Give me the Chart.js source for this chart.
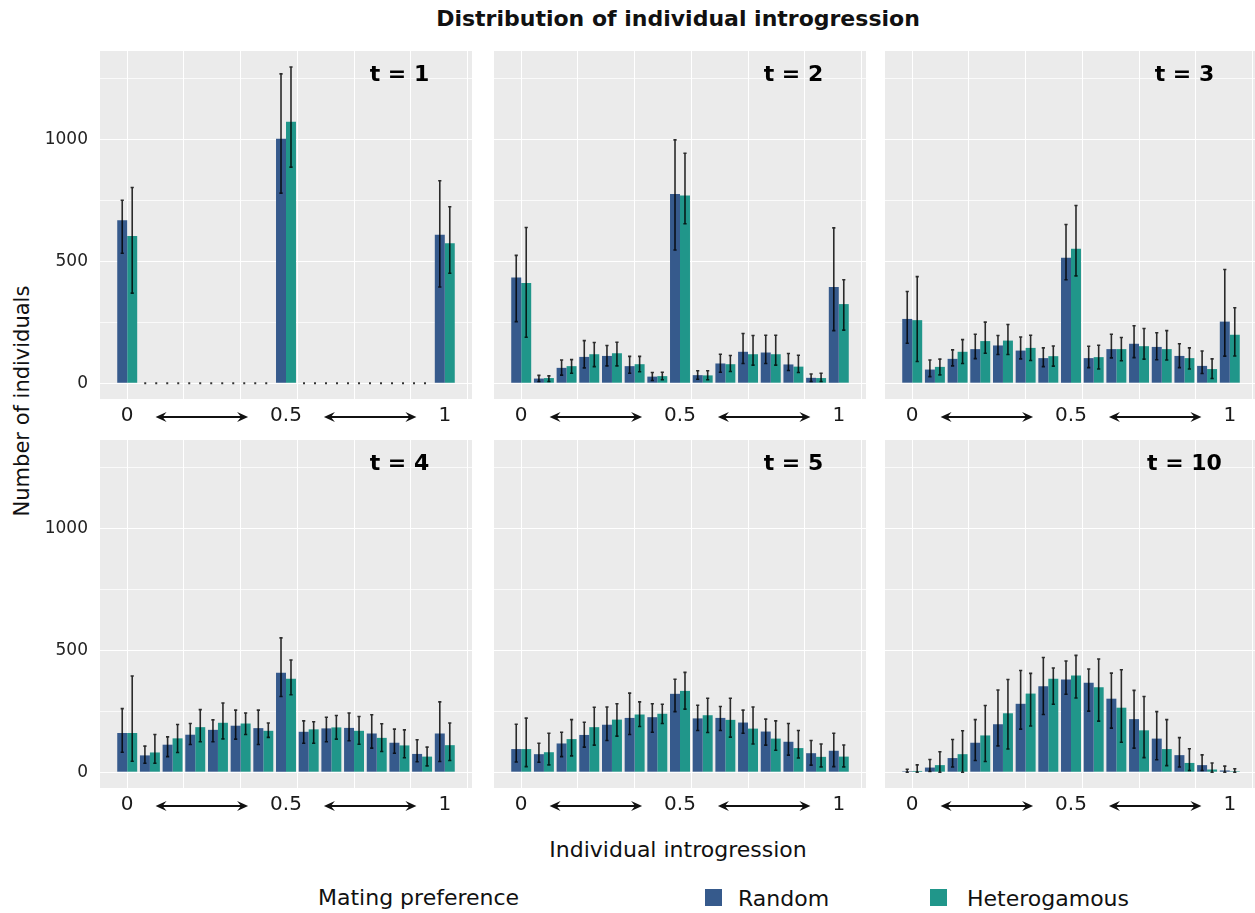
<!DOCTYPE html>
<html>
<head>
<meta charset="utf-8">
<title>Distribution of individual introgression</title>
<script src="https://cdn.jsdelivr.net/npm/chart.js@4.4.1/dist/chart.umd.min.js"></script>
<style>
  body {
    margin: 0;
    width: 1255px;
    height: 913px;
    overflow: hidden;
    background: #fff;
    position: relative;
    font-family: "DejaVu Sans", Verdana, sans-serif;
    color: #111;
  }
  canvas { position: absolute; }
  .txt { position: absolute; white-space: nowrap; }
  .c { transform: translate(-50%, -50%); }
  .l { transform: translateY(-50%); }
  .sq { position: absolute; width: 17px; height: 17px; }
</style>
</head>
<body>

<div class="txt c" style="left:678px; top:18px; font-size:22px; font-weight:bold;">Distribution of individual introgression</div>
<div class="txt c" style="left:22px; top:401px; font-size:21px; transform:translate(-50%,-50%) rotate(-90deg);">Number of individuals</div>
<div class="txt c" style="left:678px; top:849px; font-size:22px;">Individual introgression</div>

<div class="txt l" style="left:318px; top:897px; font-size:22px;">Mating preference</div>
<div class="sq" style="left:705px; top:889px; background:#365a8c;"></div>
<div class="txt l" style="left:738px; top:898px; font-size:22px;">Random</div>
<div class="sq" style="left:930px; top:889px; background:#20968a;"></div>
<div class="txt l" style="left:967px; top:898px; font-size:22px;">Heterogamous</div>

<canvas id="t1"></canvas>
<canvas id="t2"></canvas>
<canvas id="t3"></canvas>
<canvas id="t4"></canvas>
<canvas id="t5"></canvas>
<canvas id="t10"></canvas>

<script>
// introgression bins 0, 1/14, ..., 1 (plotted by bin index)
const bins = [0, 1, 2, 3, 4, 5, 6, 7, 8, 9, 10, 11, 12, 13, 14];
const tickBins = [0, 7, 14];
const tickLabels = ["0", "0.5", "1"];
const yTicks = [0, 250, 500, 750, 1000, 1250];

// t = 1
const randomT1   = [670, 0, 0, 0, 0, 0, 0, 1004, 0, 0, 0, 0, 0, 0, 610];
const randomT1Lo = [534, 0, 0, 0, 0, 0, 0, 781, 0, 0, 0, 0, 0, 0, 395];
const randomT1Hi = [752, 0, 0, 0, 0, 0, 0, 1271, 0, 0, 0, 0, 0, 0, 832];
const heteroT1   = [605, 0, 0, 0, 0, 0, 0, 1074, 0, 0, 0, 0, 0, 0, 575];
const heteroT1Lo = [370, 0, 0, 0, 0, 0, 0, 888, 0, 0, 0, 0, 0, 0, 452];
const heteroT1Hi = [804, 0, 0, 0, 0, 0, 0, 1299, 0, 0, 0, 0, 0, 0, 725];

// t = 2
const randomT2   = [434, 19, 63, 108, 112, 70, 27, 777, 33, 81, 129, 126, 77, 22, 395];
const randomT2Lo = [253, 7, 33, 63, 71, 41, 11, 547, 16, 45, 81, 81, 52, 7, 216];
const randomT2Hi = [525, 32, 95, 175, 155, 110, 44, 1000, 51, 119, 204, 197, 122, 38, 638];
const heteroT2   = [412, 21, 70, 119, 123, 78, 29, 771, 32, 78, 119, 119, 68, 21, 325];
const heteroT2Lo = [189, 7, 41, 68, 71, 47, 14, 655, 14, 48, 74, 74, 44, 7, 218];
const heteroT2Hi = [640, 30, 97, 167, 168, 110, 45, 945, 51, 114, 196, 197, 115, 41, 425];

// t = 3
const randomT3   = [264, 56, 100, 140, 155, 134, 103, 515, 103, 140, 162, 149, 112, 71, 253];
const randomT3Lo = [164, 27, 71, 101, 118, 100, 68, 425, 64, 104, 105, 96, 64, 40, 111];
const randomT3Hi = [377, 95, 137, 201, 196, 190, 145, 652, 152, 201, 236, 207, 162, 132, 467];
const heteroT3   = [259, 67, 129, 173, 175, 145, 111, 552, 107, 140, 152, 140, 103, 58, 199];
const heteroT3Lo = [89, 34, 81, 123, 118, 93, 70, 441, 58, 92, 99, 95, 58, 19, 112];
const heteroT3Hi = [438, 99, 179, 251, 241, 197, 153, 730, 156, 188, 225, 216, 145, 100, 310];

// t = 4
const randomT4   = [161, 69, 113, 154, 174, 191, 181, 409, 166, 180, 182, 159, 121, 75, 159];
const randomT4Lo = [82, 37, 64, 114, 125, 136, 114, 311, 119, 125, 129, 99, 78, 43, 44];
const randomT4Hi = [261, 107, 145, 200, 215, 255, 255, 552, 211, 226, 243, 236, 177, 133, 289];
const heteroT4   = [161, 81, 139, 185, 203, 200, 170, 384, 176, 184, 170, 141, 110, 64, 111];
const heteroT4Lo = [45, 37, 81, 125, 137, 155, 143, 318, 119, 136, 115, 85, 59, 26, 48];
const heteroT4Hi = [395, 155, 196, 257, 284, 243, 202, 461, 207, 233, 229, 199, 174, 103, 202];

// t = 5
const randomT5   = [95, 74, 118, 153, 195, 223, 226, 322, 221, 223, 204, 167, 125, 78, 88];
const randomT5Lo = [42, 41, 64, 103, 130, 155, 164, 249, 171, 171, 160, 111, 70, 29, 23];
const randomT5Hi = [197, 119, 164, 205, 268, 325, 281, 382, 275, 270, 255, 218, 200, 130, 160];
const heteroT5   = [95, 82, 136, 185, 216, 237, 240, 334, 234, 215, 179, 138, 99, 63, 64];
const heteroT5Lo = [23, 30, 67, 111, 148, 188, 200, 259, 163, 144, 116, 90, 58, 22, 22];
const heteroT5Hi = [222, 160, 216, 267, 281, 289, 279, 410, 304, 304, 268, 211, 171, 116, 112];

// t = 10
const randomT10   = [4, 19, 58, 121, 197, 281, 353, 381, 368, 302, 218, 138, 70, 29, 7];
const randomT10Lo = [0, 3, 21, 48, 108, 177, 237, 320, 251, 181, 99, 51, 21, 7, 0];
const randomT10Hi = [12, 52, 134, 216, 338, 418, 471, 457, 424, 407, 336, 249, 142, 71, 25];
const heteroT10   = [5, 29, 74, 151, 242, 323, 384, 397, 349, 265, 172, 95, 38, 11, 4];
const heteroT10Lo = [0, 0, 0, 44, 95, 190, 279, 305, 210, 123, 60, 27, 7, 0, 0];
const heteroT10Hi = [30, 84, 170, 274, 381, 406, 428, 480, 465, 421, 311, 216, 96, 38, 14];

const RANDOM_COLOR = "#365a8c";
const HETERO_COLOR = "#20968a";
const PANEL_BG = "#ebebeb";

const PLOT_W = 372, PLOT_H = 348, AXIS_H = 40, YLAB_W = 100;

// gray panel, error bars, custom x labels with arrows, "t = n" tag
const panelDecor = {
  id: "panelDecor",
  beforeDraw(chart) {
    const a = chart.chartArea, ctx = chart.ctx;
    ctx.save();
    ctx.fillStyle = PANEL_BG;
    ctx.fillRect(a.left, a.top, a.right - a.left, a.bottom - a.top);
    ctx.restore();
  },
  afterDatasetsDraw(chart) {
    const ctx = chart.ctx, y = chart.scales.y;
    ctx.save();
    ctx.strokeStyle = "rgba(0,0,0,0.82)";
    ctx.lineWidth = 1.6;
    chart.data.datasets.forEach((ds, di) => {
      chart.getDatasetMeta(di).data.forEach((bar, i) => {
        const lo = ds.errLo[i], hi = ds.errHi[i];
        if (hi <= lo) return;
        const yl = y.getPixelForValue(lo), yh = y.getPixelForValue(hi);
        ctx.beginPath();
        ctx.moveTo(bar.x, yl); ctx.lineTo(bar.x, yh);
        ctx.moveTo(bar.x - 1.6, yl); ctx.lineTo(bar.x + 1.6, yl);
        ctx.moveTo(bar.x - 1.6, yh); ctx.lineTo(bar.x + 1.6, yh);
        ctx.stroke();
      });
    });
    ctx.restore();
  },
  afterDraw(chart, args, opts) {
    const ctx = chart.ctx, x = chart.scales.x, y = chart.scales.y, a = chart.chartArea;
    ctx.save();

    // dotted zero line where there are no individuals (t = 1)
    if (opts.dots) {
      ctx.strokeStyle = "#333";
      ctx.lineWidth = 2;
      ctx.setLineDash([2, 9]);
      const y0 = y.getPixelForValue(0);
      opts.dots.forEach(([b0, b1]) => {
        ctx.beginPath();
        ctx.moveTo(x.getPixelForValue(b0), y0);
        ctx.lineTo(x.getPixelForValue(b1), y0);
        ctx.stroke();
      });
      ctx.setLineDash([]);
    }

    // x labels
    const ly = a.bottom + 17;
    ctx.fillStyle = "#1a1a1a";
    ctx.font = '20px "DejaVu Sans"';
    ctx.textAlign = "center";
    ctx.textBaseline = "middle";
    const xs = tickBins.map(b => x.getPixelForValue(b));
    const ws = tickLabels.map(t => ctx.measureText(t).width);
    tickLabels.forEach((t, k) => ctx.fillText(t, xs[k], ly));

    // double arrows between labels
    ctx.strokeStyle = "#111";
    ctx.fillStyle = "#111";
    ctx.lineWidth = 2;
    for (let k = 0; k < xs.length - 1; k++) {
      const x1 = xs[k] + ws[k] / 2 + 22;
      const x2 = xs[k + 1] - ws[k + 1] / 2 - 22;
      const ay = ly + 1;
      ctx.beginPath();
      ctx.moveTo(x1 + 4, ay); ctx.lineTo(x2 - 4, ay);
      ctx.stroke();
      ctx.beginPath();
      ctx.moveTo(x1, ay); ctx.lineTo(x1 + 11, ay - 5); ctx.lineTo(x1 + 7, ay); ctx.lineTo(x1 + 11, ay + 5);
      ctx.closePath();
      ctx.moveTo(x2, ay); ctx.lineTo(x2 - 11, ay - 5); ctx.lineTo(x2 - 7, ay); ctx.lineTo(x2 - 11, ay + 5);
      ctx.closePath();
      ctx.fill();
    }

    // panel tag
    ctx.font = 'bold 22px "DejaVu Sans"';
    ctx.fillStyle = "#000";
    ctx.fillText(opts.label, x.getPixelForValue(12), y.getPixelForValue(1265));
    ctx.restore();
  }
};

function makePanel(id, label, left, top, showY, rnd, rndLo, rndHi, het, hetLo, hetHi, dots) {
  const canvas = document.getElementById(id);
  const w = PLOT_W + (showY ? YLAB_W : 0);
  canvas.width = w;
  canvas.height = PLOT_H + AXIS_H;
  canvas.style.left = (left - (showY ? YLAB_W : 0)) + "px";
  canvas.style.top = top + "px";

  new Chart(canvas.getContext("2d"), {
    type: "bar",
    data: {
      datasets: [
        {
          label: "Random",
          data: bins.map((b, i) => ({ x: b, y: rnd[i] })),
          errLo: rndLo, errHi: rndHi,
          backgroundColor: RANDOM_COLOR,
          borderWidth: 0
        },
        {
          label: "Heterogamous",
          data: bins.map((b, i) => ({ x: b, y: het[i] })),
          errLo: hetLo, errHi: hetHi,
          backgroundColor: HETERO_COLOR,
          borderWidth: 0
        }
      ]
    },
    options: {
      responsive: false,
      animation: false,
      devicePixelRatio: 1,
      layout: { padding: 0 },
      categoryPercentage: 0.88,
      barPercentage: 1.0,
      scales: {
        x: {
          type: "linear",
          offset: false,
          min: -1.2,
          max: 15.2,
          afterBuildTicks: s => { s.ticks = [0, 2.5, 5, 7.5, 10, 12.5, 15].map(v => ({ value: v })); },
          afterFit: s => { s.height = AXIS_H; },
          ticks: { display: false },
          grid: { offset: false, color: "#ffffff", lineWidth: 1, drawTicks: false },
          border: { display: false }
        },
        y: {
          min: -65,
          max: 1365,
          afterBuildTicks: s => { s.ticks = yTicks.map(v => ({ value: v })); },
          afterFit: s => {
            s.width = showY ? YLAB_W : 0;
            s.paddingTop = 0;
            s.paddingBottom = 0;
          },
          ticks: {
            display: showY,
            padding: 12,
            color: "#222",
            font: { family: "DejaVu Sans", size: 17 },
            callback: v => (v % 500 === 0 ? String(v) : "")
          },
          grid: {
            color: c => (c.tick && c.tick.value % 500 === 0 ? "#ffffff" : "rgba(255,255,255,0.75)"),
            lineWidth: 1,
            drawTicks: false
          },
          border: { display: false }
        }
      },
      plugins: {
        legend: { display: false },
        tooltip: { enabled: false },
        panelDecor: { label: label, dots: dots }
      }
    },
    plugins: [panelDecor]
  });
}

makePanel("t1", "t = 1", 100, 51, true, randomT1, randomT1Lo, randomT1Hi, heteroT1, heteroT1Lo, heteroT1Hi,
  [[0.75, 6.3], [7.75, 13.3]]);
makePanel("t2", "t = 2", 494, 51, false, randomT2, randomT2Lo, randomT2Hi, heteroT2, heteroT2Lo, heteroT2Hi);
makePanel("t3", "t = 3", 885, 51, false, randomT3, randomT3Lo, randomT3Hi, heteroT3, heteroT3Lo, heteroT3Hi);
makePanel("t4", "t = 4", 100, 440, true, randomT4, randomT4Lo, randomT4Hi, heteroT4, heteroT4Lo, heteroT4Hi);
makePanel("t5", "t = 5", 494, 440, false, randomT5, randomT5Lo, randomT5Hi, heteroT5, heteroT5Lo, heteroT5Hi);
makePanel("t10", "t = 10", 885, 440, false, randomT10, randomT10Lo, randomT10Hi, heteroT10, heteroT10Lo, heteroT10Hi);
</script>
</body>
</html>
